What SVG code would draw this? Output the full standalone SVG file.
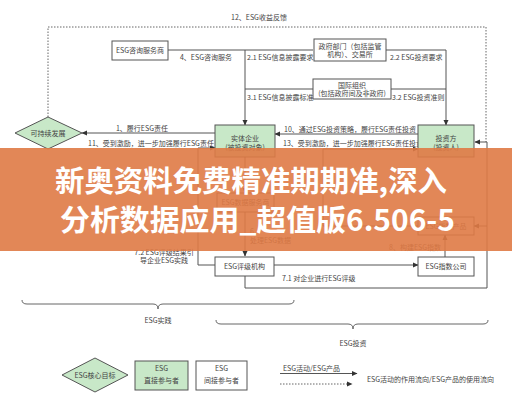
<svg xmlns="http://www.w3.org/2000/svg" width="512" height="400" viewBox="0 0 512 400">
<defs>
<marker id="ah" markerWidth="6" markerHeight="6" refX="5" refY="3" orient="auto" markerUnits="userSpaceOnUse">
<path d="M0,0.5 L5.5,3 L0,5.5 Z" fill="#333"/>
</marker>
<style>
text{font-family:"Noto Sans CJK SC","Noto Sans",sans-serif;font-size:7px;fill:#444}
.m{text-anchor:middle}
.box{fill:#fff;stroke:#555;stroke-width:1}
.g{fill:#c8e8c8;stroke:#555;stroke-width:1}
.ln{fill:none;stroke:#555;stroke-width:1}
.ar{fill:none;stroke:#555;stroke-width:1;marker-end:url(#ah)}
.dt{fill:none;stroke:#666;stroke-width:1;stroke-dasharray:1.5 1.5}
.br{fill:none;stroke:#666;stroke-width:1}
.ban{font-weight:700;font-size:29px;fill:#fff}
</style>
</defs>
<rect width="512" height="400" fill="#fff"/>

<g id="connectors">
<path class="dt" d="M48,117 V27 H486 V142"/>
<path class="ln" d="M168,50 H313"/>
<path class="ar" d="M245,50 V125"/>
<path class="ar" d="M386,50 H446 V125"/>
<path class="ln" d="M313,89 H245"/>
<path class="ln" d="M391,89 H446"/>
<path class="ar" d="M418,134 H275"/>
<path class="ar" d="M215,133 H82"/>
<path class="ar" d="M215,265 H198 V148 H215"/>
<path class="ar" d="M418,226 H323 V149 H418"/>
<path class="ar" d="M245,157 V193"/>
<path class="ar" d="M245,212 V256"/>
<path class="ar" d="M274,265 H418"/>
<path class="ar" d="M445,257 V235"/>
<path class="ar" d="M245,276 V288 H487 V142 H475"/>
<path class="ar" d="M487,226 H474"/>
</g>

<g id="labels">
<text class="m" x="259" y="20">12、ESG收益反馈</text>
<text class="m" x="206" y="59.5">4、ESG咨询服务</text>
<text x="247" y="60">2.1 ESG信息披露要求</text>
<text x="390" y="60">2.2 ESG投资要求</text>
<text x="247" y="99.5">3.1 ESG信息披露标准</text>
<text x="392" y="99.5">3.2 ESG投资准则</text>
<text class="m" x="142" y="130.5">1、履行ESG责任</text>
<text x="88" y="145.5">11、受到激励，进一步加强履行ESG责任</text>
<text x="284" y="132">10、通过ESG投资策略，履行ESG责任投资</text>
<text x="283" y="145.5">13、受到激励，进一步加强履行ESG责任投资</text>
<text x="250" y="234">6、</text>
<text x="250" y="242.5">处理ESG数据</text>
<text x="389" y="249.5">8、构建ESG指数</text>
<text class="m" x="164" y="254.5">7.2 ESG评级结果引</text>
<text class="m" x="164" y="262.5">导企业ESG实践</text>
<text x="282" y="280.5">7.1 对企业进行ESG评级</text>
</g>

<g id="n-zixun"><rect class="box" x="112" y="41" width="56" height="19"/><text class="m" x="140" y="53">ESG咨询服务商</text></g>
<g id="n-zhengfu"><rect class="box" x="314" y="39" width="72" height="22"/><text class="m" x="350" y="48.5">政府部门（包括监管</text><text class="m" x="350" y="57">机构）、交易所</text></g>
<g id="n-guoji"><rect class="box" x="313" y="79" width="78" height="20"/><text class="m" x="352" y="87.5">国际组织</text><text class="m" x="352" y="96">(包括政府间及非政府)</text></g>
<g id="n-kechixu"><polygon class="g" points="15,133 48,117 82,133 48,149"/><text class="m" x="48" y="135.5">可持续发展</text></g>
<g id="n-shiti"><rect class="g" x="215" y="125" width="60" height="32"/><text class="m" x="245" y="140.5">实体企业</text><text class="m" x="245" y="150">(被投资对象)</text></g>
<g id="n-touzifang"><rect class="g" x="418" y="125" width="56" height="32"/><text class="m" x="446" y="140.5">投资方</text><text class="m" x="446" y="150">(投资人)</text></g>
<g id="n-shuju"><rect class="box" x="217" y="193" width="57" height="19"/><text class="m" x="245.5" y="205">ESG数据服务商</text></g>
<g id="n-chanpin"><rect class="box" x="418" y="217" width="56" height="18"/><text class="m" x="446" y="228.5">ESG指数产品</text></g>
<g id="n-pingji"><rect class="box" x="215" y="257" width="59" height="19"/><text class="m" x="244.5" y="269">ESG评级机构</text></g>
<g id="n-zhishu"><rect class="box" x="418" y="257" width="56" height="19"/><text class="m" x="446" y="269">ESG指数公司</text></g>

<g id="braces">
<path class="br" d="M22,300 Q22,304 27,304 H153 Q158,304 158,309 Q158,304 163,304 H289 Q294,304 294,300"/>
<text class="m" x="158" y="323">ESG实践</text>
<path class="br" d="M216,320 Q216,324 221,324 H348 Q353,324 353,329 Q353,324 358,324 H483 Q488,324 488,320"/>
<text class="m" x="353" y="345.5">ESG投资</text>
</g>

<g id="legend">
<polygon class="g" points="62,375 95,358 128,375 95,392"/><text class="m" x="95" y="377.5">ESG核心目标</text>
<rect class="g" x="135" y="361" width="53" height="29"/><text class="m" x="161.5" y="371">ESG</text><text class="m" x="161.5" y="382.5">直接参与者</text>
<rect class="box" x="196" y="361" width="51" height="29"/><text class="m" x="221.5" y="371">ESG</text><text class="m" x="221.5" y="382.5">间接参与者</text>
<text x="283" y="370.5">ESG活动/ESG产品</text>
<path class="ar" d="M280,373.5 H357"/>
<path class="dt" d="M280,384 H352" style="marker-end:url(#ah)"/>
<text x="367" y="381.5">ESG活动的作用流向/ESG产品的使用流向</text>
</g>

<g id="banner">
<rect x="0" y="148" width="512" height="103" fill="#DF7A45" opacity="0.9"/>
<text class="ban" x="55" y="192" textLength="392" lengthAdjust="spacingAndGlyphs">新奥资料免费精准期期准,深入</text>
<text class="ban" x="60" y="231" textLength="395" lengthAdjust="spacingAndGlyphs">分析数据应用_超值版6.506-5</text>
</g>
</svg>
